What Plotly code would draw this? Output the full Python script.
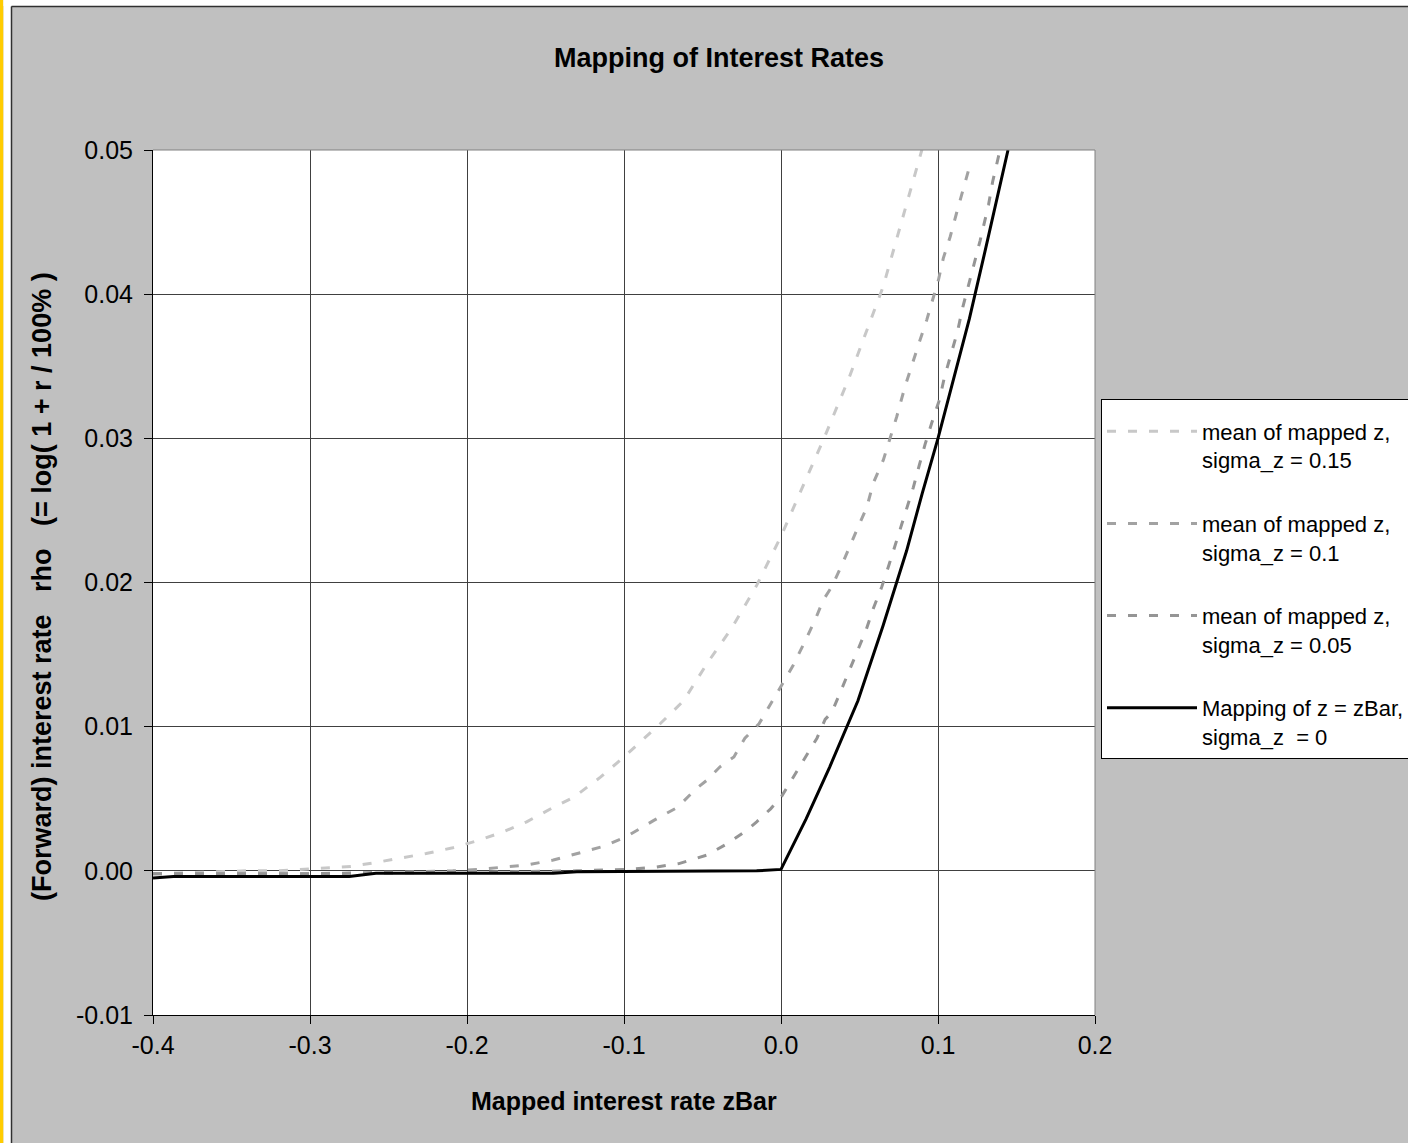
import plotly.graph_objects as go

# ---------------- data ----------------
z_s15 = [-0.400, -0.370, -0.340, -0.321, -0.304, -0.289, -0.274, -0.257, -0.241, -0.226,
         -0.209, -0.193, -0.177, -0.162, -0.145, -0.132, -0.115, -0.100, -0.077, -0.062,
         -0.047, -0.031, -0.0155, 0.000, 0.012, 0.027, 0.043, 0.053, 0.065, 0.077, 0.088, 0.091]
rho_s15 = [-0.0002, -0.0001, 0.0000, 0.0000, 0.0001, 0.0002, 0.0003, 0.0006, 0.0009, 0.0012,
           0.0016, 0.0021, 0.0027, 0.0034, 0.0044, 0.0051, 0.0065, 0.0079, 0.0102, 0.0118,
           0.0144, 0.0169, 0.0198, 0.0232, 0.0262, 0.0299, 0.0341, 0.0370, 0.0405, 0.0451, 0.0493, 0.0505]

z_s10 = [-0.400, -0.300, -0.250, -0.209, -0.193, -0.177, -0.162, -0.145, -0.129, -0.113,
         -0.098, -0.081, -0.066, -0.054, -0.047, -0.039, -0.030, -0.023, -0.014, -0.007,
         0.000, 0.0075, 0.0143, 0.0217, 0.027, 0.0323, 0.0387, 0.044, 0.0493, 0.0546,
         0.0588, 0.0652, 0.0694, 0.0737, 0.079, 0.0843, 0.0885, 0.0928, 0.0964, 0.1003,
         0.1034, 0.1078, 0.112, 0.1161, 0.121]
rho_s10 = [-0.0002, -0.0002, -0.0001, 0.0000, 0.0001, 0.00024, 0.0004, 0.00075, 0.0012, 0.0017,
           0.0024, 0.0035, 0.0044, 0.0057, 0.0063, 0.0072, 0.0079, 0.0092, 0.0102, 0.0115,
           0.0129, 0.0142, 0.0157, 0.0174, 0.0188, 0.0197, 0.0212, 0.0226, 0.0239, 0.0252,
           0.0269, 0.0285, 0.0300, 0.0315, 0.0336, 0.0353, 0.0368, 0.0382, 0.0395, 0.0410,
           0.0425, 0.0440, 0.0457, 0.0473, 0.0492]

z_s05 = [-0.400, -0.300, -0.200, -0.130, -0.098, -0.081, -0.065, -0.047, -0.034, -0.022,
         -0.0155, -0.0066, 0.000, 0.0079, 0.0154, 0.0229, 0.0281, 0.0324, 0.0382, 0.0435,
         0.0487, 0.0542, 0.0588, 0.0642, 0.069, 0.0733, 0.077, 0.0801, 0.0843, 0.088,
         0.0918, 0.0961, 0.101, 0.104, 0.1078, 0.1124, 0.1158, 0.1194, 0.123, 0.1268,
         0.129, 0.1322, 0.1348, 0.138, 0.1395]
rho_s05 = [-0.0002, -0.0002, -0.0001, 0.0000, 0.0001, 0.00024, 0.0005, 0.0011, 0.0019, 0.0028,
           0.0034, 0.0043, 0.0051, 0.0065, 0.0078, 0.0092, 0.0105, 0.0110, 0.0125, 0.0139,
           0.0152, 0.0167, 0.0182, 0.0197, 0.0213, 0.0228, 0.0242, 0.0252, 0.0266, 0.0281,
           0.0296, 0.0311, 0.0327, 0.0342, 0.0357, 0.0374, 0.0391, 0.0407, 0.0421, 0.0437,
           0.0447, 0.0462, 0.0478, 0.0493, 0.0500]

z_map = [-0.400, -0.387, -0.275, -0.258, -0.145, -0.130, -0.0155, 0.000, 0.016, 0.031,
         0.049, 0.065, 0.080, 0.090, 0.100, 0.110, 0.120, 0.130, 0.1446]
rho_map = [-0.0005, -0.0004, -0.0004, -0.00017, -0.00017, -0.00006, 0.0000, 0.0001, 0.0036, 0.0072,
           0.0118, 0.0170, 0.0222, 0.0262, 0.0300, 0.0342, 0.0383, 0.0430, 0.0500]

series_names = ["mean of mapped z,<br>sigma_z = 0.15",
                "mean of mapped z,<br>sigma_z = 0.1",
                "mean of mapped z,<br>sigma_z = 0.05",
                "Mapping of z = zBar,<br>sigma_z \u00a0= 0"]

x_tickvals = [-0.4, -0.3, -0.2, -0.1, 0.0, 0.1, 0.2]
x_ticktext = ["-0.4", "-0.3", "-0.2", "-0.1", "0.0", "0.1", "0.2"]
y_tickvals = [-0.01, 0.0, 0.01, 0.02, 0.03, 0.04, 0.05]
y_ticktext = ["-0.01", "0.00", "0.01", "0.02", "0.03", "0.04", "0.05"]

title_text = "Mapping of Interest Rates"
x_title = "Mapped interest rate zBar"
y_title = ("(Forward) interest rate \u00a0\u00a0rho \u00a0\u00a0"
           "(= log( 1 + r / 100% )")

# ---------------- layout geometry (pixels) ----------------
W, H = 1408, 1143
L, R, T, B = 153, 1095, 150, 1015
FONT = "Arial, 'Liberation Sans', sans-serif"


def px_x(p):
    return (p - L) / (R - L)


def px_y(p):
    return (B - p) / (B - T)


fig = go.Figure()
dash = "9px,12px"
styles = [dict(color="#C8C8C8", width=3, dash=dash),
          dict(color="#A2A2A2", width=3, dash=dash),
          dict(color="#959595", width=3, dash=dash),
          dict(color="#000000", width=3)]
data = [(z_s15, rho_s15), (z_s10, rho_s10), (z_s05, rho_s05), (z_map, rho_map)]
for i, ((zz, rr), nm, st) in enumerate(zip(data, series_names, styles)):
    fig.add_trace(go.Scatter(x=zz, y=rr, mode="lines", name=nm, line=st,
                             legendgroup=f"g{i}", showlegend=True))

axis_common = dict(showgrid=True, gridcolor="#404040", gridwidth=1, zeroline=False,
                   showline=True, linecolor="#000000", linewidth=1,
                   ticks="outside", ticklen=8, tickcolor="#000000", tickwidth=1,
                   tickfont=dict(family=FONT, size=25, color="#000000"))

fig.update_layout(
    width=W, height=H,
    margin=dict(l=L, r=W - R, t=T, b=H - B, autoexpand=False),
    paper_bgcolor="#C0C0C0", plot_bgcolor="#FFFFFF",
    font=dict(family=FONT, color="#000000"),
    title=dict(text=f"<b>{title_text}</b>", x=719 / W, xanchor="center",
               y=1 - 58 / H, yanchor="middle", font=dict(size=27, family=FONT)),
    xaxis=dict(range=[-0.4, 0.2], tickvals=x_tickvals, ticktext=x_ticktext, **axis_common),
    yaxis=dict(range=[-0.01, 0.05], tickvals=y_tickvals, ticktext=y_ticktext,
               ticklabelstandoff=6, **axis_common),
    legend=dict(x=px_x(1101), xanchor="left", y=px_y(399), yanchor="top",
                bgcolor="#FFFFFF", bordercolor="#000000", borderwidth=1,
                font=dict(family=FONT, size=22, color="#000000"),
                title=dict(text="\u00a0", font=dict(size=8)),
                traceorder="grouped", tracegroupgap=32, valign="top", itemwidth=90),
    showlegend=True,
)

# axis titles
fig.add_annotation(text=f"<b>{x_title}</b>", xref="paper", yref="paper",
                   x=0.5, y=px_y(1101), xanchor="center", yanchor="middle",
                   showarrow=False, font=dict(size=25, family=FONT))
fig.add_annotation(text=f"<b>{y_title}</b>", xref="paper", yref="paper",
                   x=px_x(42), y=px_y(587), xanchor="center", yanchor="middle", textangle=-90,
                   showarrow=False, font=dict(size=27, family=FONT))

# plot-area border (top and right in grey)
fig.add_shape(type="line", xref="paper", yref="paper", x0=0, x1=1, y0=1, y1=1,
              line=dict(color="#808080", width=1))
fig.add_shape(type="line", xref="paper", yref="paper", x0=1, x1=1, y0=0, y1=1,
              line=dict(color="#808080", width=1))

# outer frame decorations: yellow strip, white margin, dark chart border
fig.add_shape(type="rect", xref="paper", yref="paper", x0=px_x(-2), x1=px_x(3.5),
              y0=px_y(H + 2), y1=px_y(-2), fillcolor="#FFCC00", line=dict(width=0), layer="above")
fig.add_shape(type="rect", xref="paper", yref="paper", x0=px_x(3.5), x1=px_x(11),
              y0=px_y(H + 2), y1=px_y(-2), fillcolor="#FFFFFF", line=dict(width=0), layer="above")
fig.add_shape(type="rect", xref="paper", yref="paper", x0=px_x(3.5), x1=px_x(W + 2),
              y0=px_y(6), y1=px_y(-2), fillcolor="#FFFFFF", line=dict(width=0), layer="above")
fig.add_shape(type="line", xref="paper", yref="paper", x0=px_x(11.5), x1=px_x(11.5),
              y0=px_y(6.5), y1=px_y(H + 2), line=dict(color="#303030", width=1.5), layer="above")
fig.add_shape(type="line", xref="paper", yref="paper", x0=px_x(11.5), x1=px_x(W + 2),
              y0=px_y(6.5), y1=px_y(6.5), line=dict(color="#303030", width=1.5), layer="above")

fig.write_html("out.html", config={"displayModeBar": False},
               post_script="document.body.style.margin='0';"
                           "document.body.style.overflow='hidden';")
